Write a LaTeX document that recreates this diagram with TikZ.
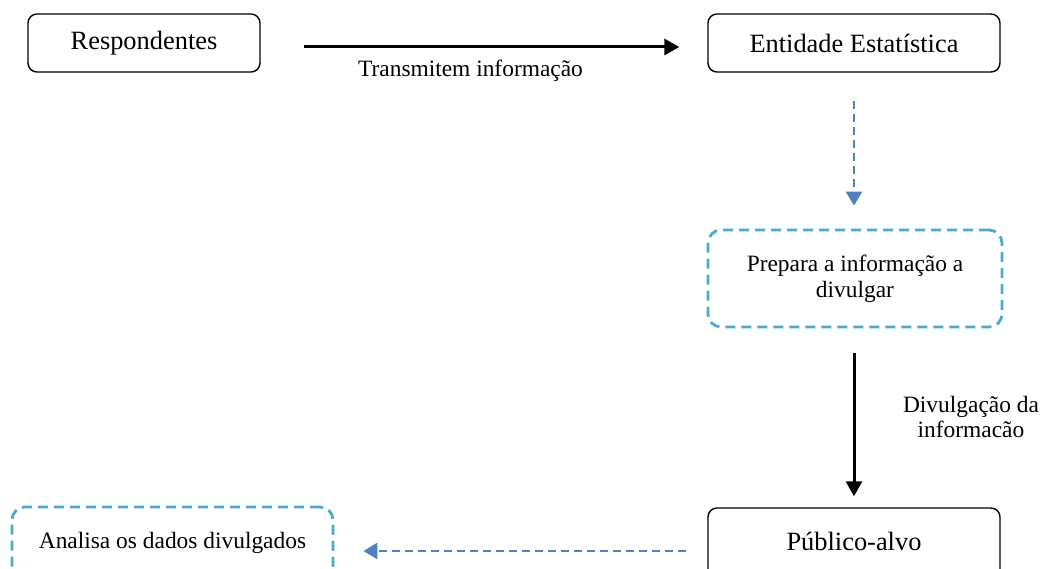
\documentclass[tikz,border=0pt]{standalone}
\usepackage{fontspec}
\setmainfont{Liberation Serif}
\usetikzlibrary{arrows.meta}
\definecolor{aqua}{HTML}{4BACC6}
\definecolor{officeblue}{HTML}{4F81BD}
\tikzset{
  solidbox/.style={draw=black, line width=1.4bp, rounded corners=9bp, inner sep=0pt,
    font=\fontsize{26.5}{30}\selectfont},
  dashbox/.style={draw=aqua, line width=2.8bp, rounded corners=13bp, inner sep=0pt,
    dash pattern=on 10bp off 6bp, font=\fontsize{23.5}{26}\selectfont, align=center},
  blackarrow/.style={line width=3bp, -{Triangle[width=16bp,length=15bp]}},
  bluearrow/.style={draw=officeblue, line width=2.8bp, dash pattern=on 8bp off 5bp,
    -{Triangle[width=16bp,length=14bp,fill=officeblue]}},
  lbl/.style={font=\fontsize{23.5}{26}\selectfont, align=center, inner sep=0pt}
}
\begin{document}
\begin{tikzpicture}[x=1bp, y=-1bp]
\useasboundingbox (0,0) rectangle (1045,569);
\node[solidbox, minimum width=232bp, minimum height=58bp] (resp) at (144,43) {\raisebox{-2bp}{Respondentes}};
\node[solidbox, minimum width=292bp, minimum height=58bp] (ent) at (854,43) {Entidade Estatística};
\node[dashbox, minimum width=294bp, minimum height=97bp] (prep) at (855,278.5) {Prepara a informação a\\divulgar};
\node[solidbox, minimum width=292bp, minimum height=76bp] (pub) at (854,546) {\raisebox{9bp}{Público-alvo}};
\node[dashbox, minimum width=321bp, minimum height=76bp] (ana) at (172.5,545) {\raisebox{9bp}{Analisa os dados divulgados}};

\draw[blackarrow, shorten <=43bp, shorten >=28bp] ([yshift=-4bp]resp.east) -- ([yshift=-4bp]ent.west);
\node[lbl] (l1) at (470.5,71) {Transmitem informação};

\draw[bluearrow, shorten <=28bp, shorten >=23bp] (ent.south) -- (ent.south |- prep.north);
\draw[blackarrow, shorten <=25bp, shorten >=11bp] (prep.south -| pub.north) -- (pub.north);
\node[lbl] (l2) at (971,417) {Divulgação da\\informacão};

\draw[bluearrow, shorten <=21bp, shorten >=29bp] ([yshift=-5bp]pub.west) -- ([yshift=-5bp]pub.west -| ana.east);
\end{tikzpicture}
\end{document}
